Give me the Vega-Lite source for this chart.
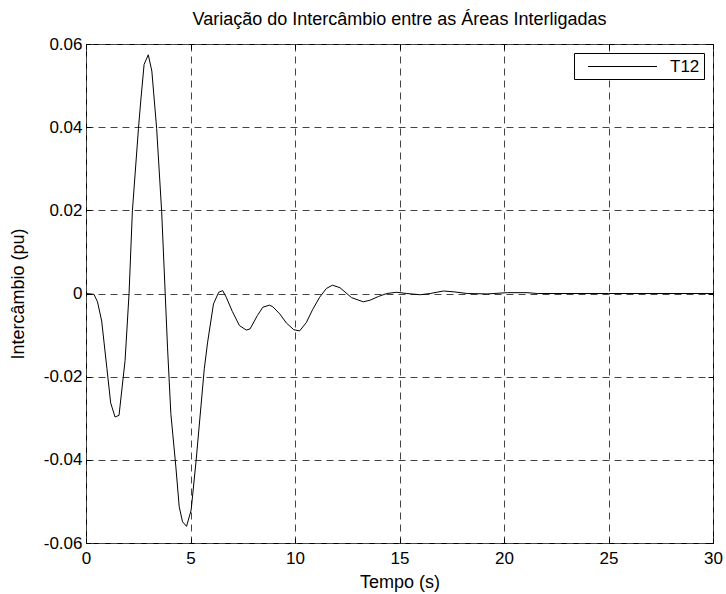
{
  "$schema": "https://vega.github.io/schema/vega-lite/v6.json",
  "autosize": "none",
  "width": 627,
  "height": 499,
  "padding": {"left": 86, "top": 44, "right": 13, "bottom": 51},
  "background": "white",
  "config": {
    "font": "Liberation Sans",
    "view": {"stroke": "black", "strokeWidth": 1},
    "axis": {"labelFont": "Liberation Sans", "titleFont": "Liberation Sans", "labelFontSize": 17, "titleFontSize": 18, "titleFontWeight": "normal", "labelColor": "black", "titleColor": "black", "domainColor": "black", "tickColor": "black"}
  },
  "title": {"text": "Variação do Intercâmbio entre as Áreas Interligadas", "fontSize": 18, "fontWeight": "normal", "font": "Liberation Sans", "offset": 6, "color": "black"},
  "data": {"values": [
    {"t": 0, "v": 0, "s": "T12"},
    {"t": 0.38, "v": -0.0002, "s": "T12"},
    {"t": 0.55, "v": -0.002, "s": "T12"},
    {"t": 0.75, "v": -0.0066, "s": "T12"},
    {"t": 1.0, "v": -0.018, "s": "T12"},
    {"t": 1.18, "v": -0.0263, "s": "T12"},
    {"t": 1.39, "v": -0.0297, "s": "T12"},
    {"t": 1.58, "v": -0.0293, "s": "T12"},
    {"t": 1.87, "v": -0.0161, "s": "T12"},
    {"t": 2.06, "v": 0.0, "s": "T12"},
    {"t": 2.22, "v": 0.0199, "s": "T12"},
    {"t": 2.51, "v": 0.0397, "s": "T12"},
    {"t": 2.62, "v": 0.0463, "s": "T12"},
    {"t": 2.78, "v": 0.0551, "s": "T12"},
    {"t": 2.98, "v": 0.0574, "s": "T12"},
    {"t": 3.15, "v": 0.0535, "s": "T12"},
    {"t": 3.38, "v": 0.0397, "s": "T12"},
    {"t": 3.62, "v": 0.0197, "s": "T12"},
    {"t": 3.79, "v": 0.0, "s": "T12"},
    {"t": 3.9, "v": -0.0129, "s": "T12"},
    {"t": 4.06, "v": -0.0289, "s": "T12"},
    {"t": 4.3, "v": -0.0417, "s": "T12"},
    {"t": 4.46, "v": -0.0513, "s": "T12"},
    {"t": 4.62, "v": -0.0549, "s": "T12"},
    {"t": 4.81, "v": -0.056, "s": "T12"},
    {"t": 5.03, "v": -0.0521, "s": "T12"},
    {"t": 5.27, "v": -0.0401, "s": "T12"},
    {"t": 5.66, "v": -0.0181, "s": "T12"},
    {"t": 5.82, "v": -0.0117, "s": "T12"},
    {"t": 6.1, "v": -0.0025, "s": "T12"},
    {"t": 6.35, "v": 0.0003, "s": "T12"},
    {"t": 6.54, "v": 0.0007, "s": "T12"},
    {"t": 6.71, "v": -0.0009, "s": "T12"},
    {"t": 7.0, "v": -0.0043, "s": "T12"},
    {"t": 7.34, "v": -0.0077, "s": "T12"},
    {"t": 7.67, "v": -0.0088, "s": "T12"},
    {"t": 7.85, "v": -0.0085, "s": "T12"},
    {"t": 8.2, "v": -0.0053, "s": "T12"},
    {"t": 8.46, "v": -0.0033, "s": "T12"},
    {"t": 8.78, "v": -0.0028, "s": "T12"},
    {"t": 8.94, "v": -0.0032, "s": "T12"},
    {"t": 9.27, "v": -0.0049, "s": "T12"},
    {"t": 9.59, "v": -0.0071, "s": "T12"},
    {"t": 9.94, "v": -0.0087, "s": "T12"},
    {"t": 10.22, "v": -0.009, "s": "T12"},
    {"t": 10.54, "v": -0.007, "s": "T12"},
    {"t": 10.85, "v": -0.0038, "s": "T12"},
    {"t": 11.18, "v": -0.0009, "s": "T12"},
    {"t": 11.5, "v": 0.0012, "s": "T12"},
    {"t": 11.79, "v": 0.002, "s": "T12"},
    {"t": 12.15, "v": 0.0014, "s": "T12"},
    {"t": 12.71, "v": -0.001, "s": "T12"},
    {"t": 13.27, "v": -0.002, "s": "T12"},
    {"t": 13.6, "v": -0.0016, "s": "T12"},
    {"t": 14.0, "v": -0.0007, "s": "T12"},
    {"t": 14.39, "v": 0.0, "s": "T12"},
    {"t": 14.87, "v": 0.0003, "s": "T12"},
    {"t": 15.35, "v": 0.0, "s": "T12"},
    {"t": 15.99, "v": -0.0003, "s": "T12"},
    {"t": 16.47, "v": 0.0, "s": "T12"},
    {"t": 17.1, "v": 0.0006, "s": "T12"},
    {"t": 17.6, "v": 0.0004, "s": "T12"},
    {"t": 18.24, "v": 0.0, "s": "T12"},
    {"t": 19.2, "v": -0.0001, "s": "T12"},
    {"t": 20.16, "v": 0.0002, "s": "T12"},
    {"t": 21.1, "v": 0.0002, "s": "T12"},
    {"t": 21.6, "v": 0.0, "s": "T12"},
    {"t": 25, "v": 0, "s": "T12"},
    {"t": 30, "v": 0, "s": "T12"}
  ]},
  "layer": [
    {
      "mark": {"type": "line", "strokeWidth": 1, "clip": true},
      "encoding": {
        "x": {"field": "t", "type": "quantitative", "scale": {"domain": [0, 30], "nice": false, "zero": false},
          "axis": {"title": "Tempo (s)", "values": [0, 5, 10, 15, 20, 25, 30], "tickSize": -5, "labelPadding": 12, "titlePadding": 7, "grid": true, "gridColor": "#444", "gridDash": [7, 5], "gridOpacity": 1, "domain": false, "labelFlush": false}},
        "y": {"field": "v", "type": "quantitative", "scale": {"domain": [-0.06, 0.06], "nice": false, "zero": false},
          "axis": {"title": "Intercâmbio (pu)", "values": [-0.06, -0.04, -0.02, 0, 0.02, 0.04, 0.06], "labelExpr": "datum.value == 0 ? '0' : (datum.value < 0 ? '-' : '') + format(abs(datum.value), '.2f')", "tickSize": -5, "labelPadding": 9, "titlePadding": 16, "grid": true, "gridColor": "#444", "gridDash": [7, 5], "gridOpacity": 1, "domain": false, "labelFlush": false}},
        "color": {"field": "s", "type": "nominal", "scale": {"domain": ["T12"], "range": ["black"]},
          "legend": {"title": null, "orient": "top-right", "offset": 9, "padding": 4, "strokeColor": "black", "fillColor": "white", "symbolType": "M-4,0L4,0", "symbolSize": 297.6, "symbolStrokeWidth": 1, "symbolFillColor": "transparent", "symbolOffset": 35, "labelOffset": 38, "labelFontSize": 17, "labelFont": "Liberation Sans", "labelColor": "black"}}
      }
    },
    {
      "mark": {"type": "line", "opacity": 0},
      "encoding": {
        "x": {"field": "t", "type": "quantitative", "scale": {"domain": [0, 30], "nice": false, "zero": false},
          "axis": {"orient": "top", "title": null, "labels": false, "values": [0, 5, 10, 15, 20, 25, 30], "tickSize": -5, "domain": false, "grid": false}},
        "y": {"field": "v", "type": "quantitative", "scale": {"domain": [-0.06, 0.06], "nice": false, "zero": false},
          "axis": {"orient": "right", "title": null, "labels": false, "values": [-0.06, -0.04, -0.02, 0, 0.02, 0.04, 0.06], "tickSize": -5, "domain": false, "grid": false}}
      }
    }
  ],
  "resolve": {"scale": {"x": "independent", "y": "independent"}}
}
